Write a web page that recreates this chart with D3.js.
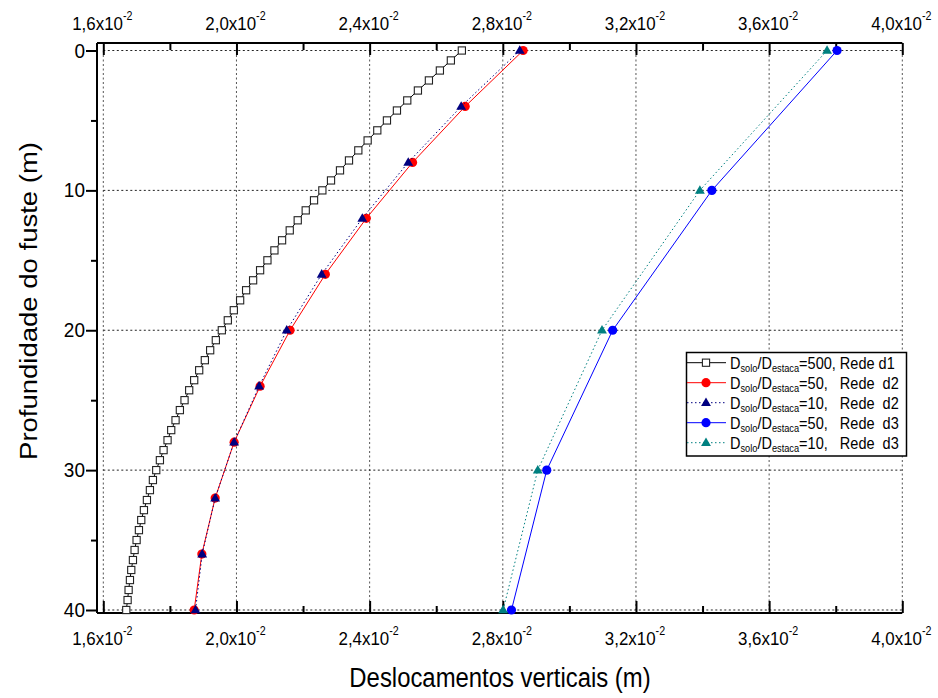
<!DOCTYPE html>
<html>
<head>
<meta charset="utf-8">
<script src="https://cdn.jsdelivr.net/npm/d3@7"></script>
<style>
  html, body { margin: 0; padding: 0; background: #fff; }
  svg { display: block; font-family: "Liberation Sans", Arial, sans-serif; }
  text { white-space: pre; }
</style>
</head>
<body>
<svg id="chart" width="938" height="698"></svg>
<script>
// Depth along the pile shaft (m) and vertical displacement (m)
const depthD1 = [0, 0.71, 1.43, 2.14, 2.86, 3.57, 4.29, 5.00, 5.71, 6.43, 7.14, 7.86, 8.57, 9.29,
  10.00, 10.71, 11.43, 12.14, 12.86, 13.57, 14.29, 15.00, 15.71, 16.43, 17.14, 17.86, 18.57, 19.29,
  20.00, 20.71, 21.43, 22.14, 22.86, 23.57, 24.29, 25.00, 25.71, 26.43, 27.14, 27.86, 28.57, 29.29,
  30.00, 30.71, 31.43, 32.14, 32.86, 33.57, 34.29, 35.00, 35.71, 36.43, 37.14, 37.86, 38.57, 39.29, 40.00];
const dispD1_500 = [0.02677, 0.02644, 0.02611, 0.02578, 0.02545, 0.02513, 0.02482, 0.02452, 0.02423, 0.02394,
  0.02366, 0.02338, 0.02311, 0.02284, 0.02258, 0.02233, 0.02208, 0.02184, 0.02160, 0.02137,
  0.02114, 0.02093, 0.02071, 0.02050, 0.02029, 0.02011, 0.01992, 0.01974, 0.01956, 0.01938,
  0.01921, 0.01905, 0.01888, 0.01873, 0.01858, 0.01844, 0.01830, 0.01817, 0.01804, 0.01793,
  0.01781, 0.01770, 0.01759, 0.01749, 0.01740, 0.01731, 0.01722, 0.01714, 0.01707, 0.01700,
  0.01694, 0.01689, 0.01684, 0.01680, 0.01676, 0.01673, 0.01669];

const depthD2 = [0, 4, 8, 12, 16, 20, 24, 28, 32, 36, 40];
const dispD2_50 = [0.02861, 0.02687, 0.02529, 0.02390, 0.02267, 0.02161, 0.02071, 0.01993, 0.01936, 0.01896, 0.01873];
const dispD2_10 = [0.02851, 0.02675, 0.02516, 0.02378, 0.02256, 0.02151, 0.02068, 0.01993, 0.01936, 0.01897, 0.01877];

const depthD3 = [0, 10, 20, 30, 40];
const dispD3_50 = [0.03804, 0.03428, 0.03130, 0.02932, 0.02826];
const dispD3_10 = [0.03774, 0.03392, 0.03098, 0.02905, 0.02801];

const xTicks = [0.016, 0.020, 0.024, 0.028, 0.032, 0.036, 0.040];
const xMinorTicks = [0.018, 0.022, 0.026, 0.030, 0.034, 0.038];
const yTicks = [0, 10, 20, 30, 40];
const yMinorTicks = [5, 15, 25, 35];

const legendRatios = ["500", "50", "10", "50", "10"];
const legendTails = [", Rede d1", ",   Rede  d2", ",   Rede  d2", ",   Rede  d3", ",   Rede  d3"];

const svg = d3.select("#chart");

const x = d3.scaleLinear().domain([0.016, 0.040]).range([103.3, 902.3]);
const y = d3.scaleLinear().domain([0, 40]).range([50.5, 610]);

const frame = { left: 97, right: 902.3, top: 43, bottom: 613 };

// Text is set slightly narrow (horizontal squeeze) like the original typesetting
const SQ = 0.89;
function textAt(g, px, py, sx) {
  return g.append("text").attr("transform", `translate(${px},${py}) scale(${sx},1)`);
}

// Dotted grid
const grid = svg.append("g").attr("stroke-width", 1).attr("stroke-dasharray", "2,2.5");
grid.selectAll("line.gx").data(xTicks).join("line")
  .attr("stroke", "#555")
  .attr("x1", d => x(d)).attr("x2", d => x(d))
  .attr("y1", y(0)).attr("y2", y(40));
grid.selectAll("line.gy").data(yTicks).join("line")
  .attr("stroke", "#222")
  .attr("y1", d => y(d)).attr("y2", d => y(d))
  .attr("x1", x(0.016)).attr("x2", x(0.040));

// Axes
function styleAxis(g) {
  g.select(".domain").remove();
  g.selectAll(".tick line").attr("stroke", "#000").attr("stroke-width", 2);
  g.selectAll(".tick text").remove();
}

svg.append("g").attr("transform", `translate(0,${frame.top})`)
  .call(d3.axisTop(x).tickValues(xTicks).tickSize(-12).tickSizeOuter(0)).call(styleAxis);
svg.append("g").attr("transform", `translate(0,${frame.top})`)
  .call(d3.axisTop(x).tickValues(xMinorTicks).tickSize(-7).tickSizeOuter(0)).call(styleAxis);
svg.append("g").attr("transform", `translate(0,${frame.bottom})`)
  .call(d3.axisBottom(x).tickValues(xTicks).tickSize(-12).tickSizeOuter(0)).call(styleAxis);
svg.append("g").attr("transform", `translate(0,${frame.bottom})`)
  .call(d3.axisBottom(x).tickValues(xMinorTicks).tickSize(-7).tickSizeOuter(0)).call(styleAxis);
svg.append("g").attr("transform", `translate(${frame.left},0)`)
  .call(d3.axisLeft(y).tickValues(yTicks).tickSize(11).tickSizeOuter(0)).call(styleAxis);
svg.append("g").attr("transform", `translate(${frame.left},0)`)
  .call(d3.axisLeft(y).tickValues(yMinorTicks).tickSize(6).tickSizeOuter(0)).call(styleAxis);

// Frame lines
const fr = svg.append("g").attr("stroke", "#000").attr("stroke-width", 2).attr("fill", "none");
fr.append("line").attr("x1", frame.left).attr("x2", frame.right).attr("y1", frame.top).attr("y2", frame.top);
fr.append("line").attr("x1", frame.left).attr("x2", frame.right).attr("y1", frame.bottom).attr("y2", frame.bottom);
fr.append("line").attr("x1", frame.left).attr("x2", frame.left).attr("y1", frame.top).attr("y2", frame.bottom);

// Tick labels with powers of ten
function xLabels(baseline) {
  const g = svg.append("g");
  xTicks.forEach(d => {
    const t = textAt(g, x(d) - 1, baseline, SQ).attr("text-anchor", "middle").attr("font-size", 19);
    t.append("tspan").text((d * 100).toFixed(1).replace(".", ",") + "x10");
    t.append("tspan").attr("font-size", 12).attr("dy", -10).text("-2");
  });
}
xLabels(29.5);
xLabels(644.5);

const yl = svg.append("g");
yTicks.forEach(d => {
  textAt(yl, 85, y(d) + 7, 0.95).attr("text-anchor", "end").attr("font-size", 20).text(d);
});

// Axis titles
textAt(svg, 500, 687, 0.885).attr("text-anchor", "middle")
  .attr("font-size", 27).text("Deslocamentos verticais (m)");
svg.append("text").attr("transform", "translate(37,301) rotate(-90) scale(1,0.9)").attr("text-anchor", "middle")
  .attr("font-size", 27.5).text("Profundidade do fuste (m)");

// Series
const series = [
  { depth: depthD1, disp: dispD1_500, color: "#000", dash: null, marker: "square" },
  { depth: depthD2, disp: dispD2_50, color: "#ff0000", dash: null, marker: "circle" },
  { depth: depthD2, disp: dispD2_10, color: "#000080", dash: "1.5,2.5", marker: "triangle" },
  { depth: depthD3, disp: dispD3_50, color: "#0000ff", dash: null, marker: "circle" },
  { depth: depthD3, disp: dispD3_10, color: "#008080", dash: "1.5,2.5", marker: "triangle" }
];

const line = d3.line().x(d => x(d[1])).y(d => y(d[0]));

function drawMarker(g, type, color, cx, cy) {
  if (type === "square") {
    g.append("rect").attr("x", cx - 3.6).attr("y", cy - 3.6).attr("width", 7.2).attr("height", 7.2)
      .attr("fill", "#fff").attr("stroke", "#222").attr("stroke-width", 1.1);
  } else if (type === "circle") {
    g.append("circle").attr("cx", cx).attr("cy", cy).attr("r", 4.6).attr("fill", color);
  } else {
    g.append("path").attr("d", d3.symbol(d3.symbolTriangle, 42)())
      .attr("transform", `translate(${cx},${cy + 0.5})`).attr("fill", color);
  }
}

series.forEach(s => {
  const pts = s.depth.map((d, i) => [d, s.disp[i]]);
  const g = svg.append("g");
  g.append("path").datum(pts).attr("d", line)
    .attr("fill", "none").attr("stroke", s.color).attr("stroke-width", 1)
    .attr("stroke-dasharray", s.dash);
  pts.forEach(p => drawMarker(g, s.marker, s.color, x(p[1]), y(p[0])));
});

// Legend
const lg = svg.append("g");
lg.append("rect").attr("x", 686.5).attr("y", 352.5).attr("width", 220).attr("height", 103.5)
  .attr("fill", "#fff").attr("stroke", "#000").attr("stroke-width", 1.5);
series.forEach((s, i) => {
  const cy = 362.7 + i * 20;
  lg.append("line").attr("x1", 687).attr("x2", 726).attr("y1", cy).attr("y2", cy)
    .attr("stroke", s.color).attr("stroke-width", 1).attr("stroke-dasharray", s.dash);
  drawMarker(lg, s.marker, s.color, 706, cy);
  const t = textAt(lg, 730, cy + 6, 0.88).attr("font-size", 16.5);
  t.append("tspan").text("D");
  t.append("tspan").attr("font-size", 10.5).attr("dy", 3.5).text("solo");
  t.append("tspan").attr("dy", -3.5).text("/D");
  t.append("tspan").attr("font-size", 10.5).attr("dy", 3.5).text("estaca");
  t.append("tspan").attr("dy", -3.5).text("=" + legendRatios[i] + legendTails[i]);
});
</script>
</body>
</html>
